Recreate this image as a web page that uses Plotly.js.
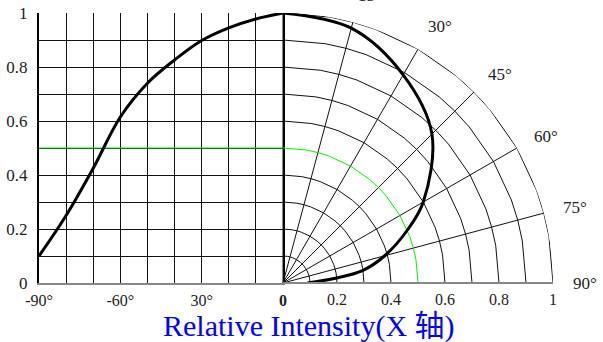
<!DOCTYPE html>
<html><head><meta charset="utf-8">
<script src="https://cdn.plot.ly/plotly-3.0.1.min.js"></script>
<style>html,body{margin:0;padding:0;background:#fff}#chart{width:603px;height:342px}</style>
</head><body><div id="chart"></div>
<script>
// Left half: relative intensity vs angle (cartesian)
const leftAngles = [-90, -80, -70, -60, -50, -40, -30, -20, -10, 0];
const leftIntensity = [0.10, 0.25, 0.425, 0.615, 0.74, 0.826, 0.898, 0.945, 0.978, 1.0];
// Right half: same pattern on polar grid
const rightAngles = [0, 15, 30, 45, 60, 67, 75, 81, 85, 90];
const rightIntensity = [1.0, 0.977, 0.89, 0.78, 0.60, 0.50, 0.39, 0.30, 0.19, 0.09];
const referenceLevel = 0.5;

const xTickVals = [-90, -60, -30, 0];
const xTickText = ['-90°', '-60°', '30°', '<b>0</b>'];
const yTickVals = [0, 0.2, 0.4, 0.6, 0.8, 1];
const yTickText = ['0', '0.2', '0.4', '0.6', '0.8', '1'];
const radialTickVals = [0.2, 0.4, 0.6, 0.8, 1];
const radialTickText = ['0.2', '0.4', '0.6', '0.8', '1'];
const angularTickVals = [0, 15, 30, 45, 60, 75, 90];
const angularTickText = ['', '15°', '30°', '45°', '60°', '75°', '90°'];
const arcRadii = [0.1, 0.2, 0.3, 0.4, 0.6, 0.7, 0.8, 0.9, 1.0];
const arcVertexAngles = [0, 10, 15, 20, 30, 40, 45, 50, 60, 70, 75, 80, 90];

const serif = 'Liberation Serif';
const traces = [];

arcRadii.forEach(r => {
  traces.push({
    type: 'scatterpolar', subplot: 'polar', mode: 'lines',
    r: arcVertexAngles.map(() => r), theta: arcVertexAngles,
    line: {color: '#111', width: 1}, hoverinfo: 'skip'
  });
});
traces.push({
  type: 'scatterpolar', subplot: 'polar', mode: 'lines',
  r: arcVertexAngles.map(() => referenceLevel), theta: arcVertexAngles,
  line: {color: '#00ee00', width: 1}, hoverinfo: 'skip'
});
traces.push({
  type: 'scatter', mode: 'lines', x: [leftAngles[0], leftAngles[leftAngles.length - 1]],
  y: [referenceLevel, referenceLevel], line: {color: '#00ee00', width: 1}, hoverinfo: 'skip'
});
traces.push({
  type: 'scatter', mode: 'lines', x: leftAngles, y: leftIntensity,
  line: {color: '#000', width: 3, shape: 'spline', smoothing: 1}, hoverinfo: 'skip'
});
traces.push({
  type: 'scatterpolar', subplot: 'polar', mode: 'lines', r: rightIntensity, theta: rightAngles,
  line: {color: '#000', width: 3, shape: 'spline', smoothing: 1}, hoverinfo: 'skip'
});

const L = 39, R = 50, T = 13, B = 59, W = 603, H = 342;
const plotW = W - L - R;
const splitX = (283 - L) / plotW;

const layout = {
  width: W, height: H,
  margin: {l: L, r: R, t: T, b: B, pad: 0},
  paper_bgcolor: '#fff', plot_bgcolor: 'rgba(0,0,0,0)',
  showlegend: false, hovermode: false,
  font: {family: serif, color: '#222', size: 16},
  xaxis: {
    domain: [0, splitX], range: [-90, 0],
    tickmode: 'array', tickvals: xTickVals, ticktext: xTickText,
    showgrid: true, gridcolor: '#111', gridwidth: 1,
    minor: {dtick: 10, tick0: 0, showgrid: true, gridcolor: '#111', gridwidth: 1},
    showline: true, linecolor: '#888', linewidth: 2, zeroline: false,
    ticks: 'outside', ticklen: 2, tickcolor: 'rgba(0,0,0,0)',
    tickfont: {size: 16, family: serif, color: '#222'}, fixedrange: true
  },
  yaxis: {
    domain: [0, 1], range: [0, 1],
    tickmode: 'array', tickvals: yTickVals, ticktext: yTickText,
    showgrid: true, gridcolor: '#111', gridwidth: 1,
    minor: {dtick: 0.1, tick0: 0, showgrid: true, gridcolor: '#111', gridwidth: 1},
    showline: true, linecolor: '#000', linewidth: 2, mirror: true, zeroline: false,
    ticks: 'outside', ticklen: 6, tickcolor: 'rgba(0,0,0,0)',
    tickfont: {size: 17, family: serif, color: '#222'}, fixedrange: true
  },
  polar: {
    domain: {x: [splitX, 1], y: [0, 1]},
    sector: [0, 90], bgcolor: 'rgba(0,0,0,0)', hole: 0,
    radialaxis: {
      range: [0, 1], angle: 0, side: 'clockwise',
      tickmode: 'array', tickvals: radialTickVals, ticktext: radialTickText,
      showgrid: false, showline: true, linecolor: '#888', linewidth: 2,
      ticks: 'outside', ticklen: 2, tickcolor: 'rgba(0,0,0,0)', tickangle: 0,
      tickfont: {size: 16, family: serif, color: '#222'}
    },
    angularaxis: {
      rotation: 90, direction: 'clockwise',
      tickmode: 'array', tickvals: angularTickVals, ticktext: angularTickText,
      showgrid: true, gridcolor: '#111', gridwidth: 1, showline: false,
      ticks: 'outside', ticklen: 16, tickcolor: 'rgba(0,0,0,0)',
      tickfont: {size: 17, family: serif, color: '#222'}
    }
  },
  annotations: [{
    xref: 'paper', yref: 'paper', x: (309 - L) / plotW, y: (283 - 326) / 270,
    xanchor: 'center', yanchor: 'middle', showarrow: false,
    text: 'Relative Intensity(X 轴)',
    font: {family: 'Liberation Serif, Noto Sans CJK SC', size: 30, color: '#0000ff'}
  }]
};

Plotly.newPlot('chart', traces, layout, {staticPlot: true, displayModeBar: false});
</script>
</body></html>
